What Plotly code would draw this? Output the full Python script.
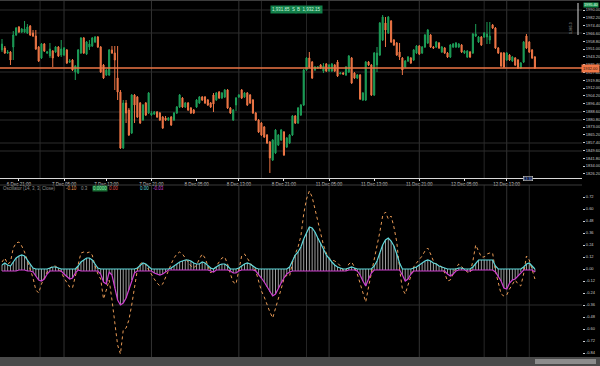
import plotly.graph_objects as go

# ---------------- data ----------------
opens = [1950,1952,1947,1948,1953,1965,1973,1968,1968,1967,
         1974,1967,1964,1953,1942,1956,1947,1944,1949,1948,
         1953,1945,1945,1950,1938,1940,1928,1927,1947,1962,
         1946,1953,1954,1958,1963,1953,1935,1925,1925,1950,
         1947,1922,1908,1852,1897,1890,1867,1905,1903,1897,
         1880,1897,1887,1885,1886,1888,1887,1883,1882,1880,
         1883,1880,1887,1893,1902,1893,1897,1892,1890,1893,
         1897,1903,1903,1900,1897,1905,1900,1908,1902,1903,
         1910,1892,1880,1895,1903,1910,1903,1907,1905,1900,
         1887,1880,1877,1873,1865,1858,1840,1847,1855,1860,
         1868,1853,1857,1865,1884,1877,1885,1895,1930,1942,
         1938,1930,1932,1935,1929,1936,1929,1929,1935,1938,
         1926,1927,1925,1928,1942,1927,1922,1925,1900,1900,
         1938,1935,1905,1935,1945,1960,1977,1967,1979,1960,
         1957,1948,1942,1933,1939,1942,1940,1947,1954,1947,
         1953,1957,1965,1953,1953,1957,1948,1952,1947,1943,
         1953,1953,1953,1955,1947,1943,1948,1947,1964,1958,
         1963,1963,1963,1960,1975,1972,1952,1947,1947,1940,
         1945,1939,1942,1940,1932,1938,1964,1958,1950,1943]
highs = [1961,1954,1950,1949,1969,1973,1974,1972,1979,1976,
         1975,1970,1970,1954,1957,1957,1949,1957,1950,1954,
         1954,1960,1953,1951,1941,1941,1935,1951,1963,1963,
         1959,1960,1963,1964,1964,1954,1936,1931,1951,1954,
         1954,1954,1910,1900,1900,1892,1906,1906,1904,1898,
         1896,1898,1908,1889,1889,1889,1888,1884,1884,1883,
         1884,1888,1894,1906,1903,1898,1898,1893,1891,1901,
         1904,1904,1904,1901,1898,1907,1908,1909,1908,1911,
         1911,1893,1891,1903,1906,1911,1908,1908,1906,1901,
         1888,1881,1878,1874,1866,1859,1861,1871,1866,1871,
         1869,1863,1866,1885,1885,1893,1896,1931,1943,1948,
         1939,1934,1934,1936,1937,1937,1936,1937,1936,1940,
         1928,1928,1934,1945,1943,1928,1926,1926,1908,1939,
         1939,1936,1948,1953,1978,1985,1983,1984,1980,1961,
         1958,1957,1943,1940,1944,1943,1951,1955,1955,1954,
         1966,1971,1966,1954,1959,1958,1954,1953,1948,1956,
         1957,1958,1957,1956,1950,1950,1949,1967,1976,1964,
         1964,1968,1978,1978,1976,1973,1953,1948,1948,1948,
         1946,1944,1943,1941,1938,1959,1966,1959,1951,1944]
lows = [1948,1946,1946,1935,1940,1964,1967,1967,1967,1966,
        1964,1963,1950,1938,1941,1948,1946,1942,1933,1947,
        1943,1943,1944,1936,1937,1929,1920,1926,1946,1946,
        1945,1950,1953,1957,1952,1927,1921,1924,1924,1946,
        1910,1900,1851,1851,1877,1864,1866,1877,1882,1876,
        1879,1884,1886,1884,1885,1882,1879,1871,1879,1879,
        1874,1879,1886,1892,1892,1892,1889,1886,1886,1892,
        1896,1899,1896,1894,1892,1888,1899,1901,1901,1902,
        1891,1886,1879,1889,1902,1901,1902,1894,1896,1886,
        1879,1867,1864,1862,1856,1827,1839,1846,1854,1859,
        1844,1852,1856,1864,1876,1876,1884,1894,1929,1932,
        1921,1929,1931,1931,1927,1928,1928,1928,1928,1923,
        1926,1925,1924,1927,1916,1921,1921,1900,1899,1899,
        1934,1904,1904,1928,1944,1959,1953,1966,1957,1954,
        1944,1940,1925,1932,1938,1936,1939,1946,1945,1946,
        1952,1956,1952,1951,1952,1951,1947,1946,1942,1942,
        1952,1952,1952,1947,1946,1942,1942,1946,1963,1957,
        1954,1962,1956,1956,1971,1951,1946,1933,1932,1939,
        1939,1938,1934,1931,1931,1937,1951,1947,1941,1931]
closes = [1956,1947,1948,1940,1965,1972,1968,1971,1971,1973,
          1965,1964,1951,1939,1956,1949,1948,1951,1942,1953,
          1944,1951,1952,1937,1939,1930,1934,1950,1962,1947,
          1958,1956,1962,1963,1953,1928,1922,1930,1950,1947,
          1940,1908,1852,1897,1887,1865,1905,1895,1883,1877,
          1895,1885,1907,1887,1888,1883,1880,1872,1880,1882,
          1875,1887,1893,1905,1893,1897,1890,1887,1887,1900,
          1903,1900,1897,1895,1893,1896,1907,1902,1907,1910,
          1892,1887,1890,1902,1905,1902,1907,1895,1897,1887,
          1880,1868,1865,1863,1857,1842,1860,1870,1865,1870,
          1845,1862,1865,1884,1877,1892,1895,1930,1942,1933,
          1922,1933,1933,1932,1934,1929,1935,1936,1929,1924,
          1927,1926,1933,1944,1917,1922,1925,1901,1907,1938,
          1935,1905,1947,1947,1977,1983,1970,1983,1958,1955,
          1945,1943,1930,1939,1943,1937,1950,1954,1946,1953,
          1965,1970,1953,1952,1958,1952,1953,1947,1943,1955,
          1956,1957,1956,1948,1949,1949,1943,1966,1966,1963,
          1955,1967,1966,1964,1972,1952,1947,1934,1933,1947,
          1940,1943,1935,1932,1937,1958,1952,1948,1942,1932]

osc_up = [0.04,0.06,0.04,0.03,0.07,0.11,0.13,0.14,0.13,0.09,
          0.05,0.01,0,0,0,0,0,0.01,0.02,0.02,
          0.01,0,0,0,0,0,0,0.03,0.07,0.09,
          0.11,0.11,0.09,0.05,0.01,0,0,0,0,0,
          0,0,0,0,0,0,0,0,0.01,0.04,
          0.06,0.05,0.02,0,0,0,0,0,0,0,
          0.01,0.03,0.05,0.07,0.08,0.09,0.09,0.08,0.06,0.05,
          0.05,0.07,0.06,0.03,0.01,0,0.02,0.04,0.05,0.05,
          0.03,0,0,0,0.01,0.03,0.05,0.06,0.05,0.03,
          0.01,0,0,0,0,0,0,0,0,0,
          0,0,0.02,0.08,0.14,0.17,0.22,0.30,0.37,0.42,
          0.41,0.37,0.31,0.26,0.20,0.14,0.10,0.07,0.04,0.02,
          0.01,0,0,0.01,0.02,0.01,0,0,0,0,
          0,0,0.03,0.08,0.16,0.24,0.29,0.31,0.28,0.23,
          0.15,0.06,0,0,0,0,0.01,0.02,0.04,0.06,
          0.08,0.09,0.08,0.06,0.05,0.03,0.02,0.01,0,0,
          0,0,0.01,0.01,0,0,0,0.02,0.06,0.09,
          0.09,0.09,0.09,0.09,0.09,0.03,0,0,0,0,
          0,0,0,0,0,0.02,0.05,0.06,0.03,0]
osc_down = [-0.02,-0.02,-0.02,-0.02,-0.02,-0.02,-0.01,-0.01,-0.01,-0.02,
            -0.02,-0.03,-0.07,-0.11,-0.12,-0.10,-0.05,-0.02,-0.02,-0.02,
            -0.02,-0.02,-0.05,-0.08,-0.10,-0.09,-0.04,-0.01,-0.02,-0.02,
            -0.02,-0.02,-0.02,-0.02,-0.02,-0.05,-0.13,-0.15,-0.03,-0.06,
            -0.19,-0.31,-0.36,-0.34,-0.29,-0.21,-0.11,-0.04,-0.02,-0.02,
            -0.02,-0.02,-0.02,-0.02,-0.04,-0.05,-0.06,-0.05,-0.03,-0.01,
            -0.01,-0.01,-0.01,-0.01,-0.01,-0.01,-0.01,-0.01,-0.01,-0.01,
            -0.01,-0.01,-0.01,-0.01,-0.02,-0.03,-0.01,-0.01,-0.01,-0.01,
            -0.01,-0.02,-0.04,-0.04,-0.02,-0.01,-0.01,-0.01,-0.01,-0.01,
            -0.02,-0.05,-0.09,-0.13,-0.18,-0.23,-0.27,-0.25,-0.19,-0.14,
            -0.09,-0.05,-0.03,-0.02,-0.02,-0.02,-0.02,-0.02,-0.02,-0.02,
            -0.02,-0.02,-0.02,-0.02,-0.02,-0.02,-0.02,-0.02,-0.02,-0.02,
            -0.02,-0.02,-0.02,-0.01,-0.01,-0.01,-0.02,-0.06,-0.12,-0.17,
            -0.10,-0.04,-0.01,-0.01,-0.01,-0.01,-0.01,-0.01,-0.01,-0.01,
            -0.01,-0.01,-0.06,-0.12,-0.10,-0.05,-0.02,-0.02,-0.02,-0.02,
            -0.02,-0.02,-0.02,-0.02,-0.02,-0.02,-0.02,-0.02,-0.05,-0.07,
            -0.05,-0.02,-0.01,-0.01,-0.01,-0.02,-0.02,-0.01,-0.01,-0.01,
            -0.01,-0.01,-0.01,-0.01,-0.01,-0.03,-0.08,-0.12,-0.19,-0.20,
            -0.14,-0.11,-0.10,-0.07,-0.03,-0.01,-0.01,-0.01,-0.01,-0.03]
osc_fast = [0.07,0.11,0.05,0.07,0.21,0.26,0.27,0.23,0.17,0.09,
            0.01,-0.09,-0.21,-0.24,-0.15,-0.09,-0.03,0.01,0.03,0.03,
            0.0,-0.03,-0.09,-0.14,-0.18,-0.19,-0.07,0.05,0.16,0.17,
            0.16,0.17,0.14,0.03,-0.05,-0.10,-0.30,-0.21,-0.11,-0.31,
            -0.51,-0.76,-0.85,-0.61,-0.59,-0.51,-0.36,-0.16,-0.01,0.05,
            0.07,0.04,-0.01,-0.06,-0.10,-0.14,-0.17,-0.15,-0.09,-0.02,
            0.05,0.11,0.15,0.17,0.15,0.11,0.07,0.03,0.01,0.04,
            0.10,0.15,0.11,0.03,-0.04,-0.01,0.03,0.08,0.11,0.12,
            0.05,-0.05,-0.13,-0.15,-0.01,0.13,0.15,0.11,0.07,0.03,
            -0.02,-0.12,-0.22,-0.28,-0.36,-0.43,-0.49,-0.40,-0.30,-0.20,
            -0.10,-0.06,-0.07,0.06,0.15,0.22,0.33,0.55,0.70,0.78,
            0.72,0.61,0.47,0.36,0.24,0.16,0.11,0.09,0.08,0.06,
            0.03,-0.02,-0.02,0.05,0.07,0.02,-0.05,-0.14,-0.25,-0.33,
            -0.18,-0.05,0.08,0.22,0.37,0.53,0.57,0.50,0.53,0.42,
            0.27,0.0,-0.20,-0.25,-0.16,-0.06,0.02,0.06,0.09,0.13,
            0.18,0.21,0.15,0.08,0.05,0.04,0.02,-0.04,-0.12,-0.11,
            -0.05,0.01,0.05,0.02,-0.01,-0.03,-0.04,0.08,0.24,0.18,
            0.12,0.12,0.15,0.16,0.16,-0.02,-0.15,-0.25,-0.27,-0.26,
            -0.20,-0.15,-0.11,-0.15,-0.17,-0.05,0.13,0.09,0.0,-0.10]

time_tick_idx = [6, 22, 37, 53, 69, 84, 100, 116, 132, 148, 164, 179]
time_tick_text = ["6 Dec 21:00", "7 Dec 05:00", "7 Dec 13:00", "7 Dec 21:00",
                  "8 Dec 05:00", "8 Dec 13:00", "8 Dec 21:00", "11 Dec 05:00",
                  "11 Dec 13:00", "11 Dec 21:00", "12 Dec 05:00", "12 Dec 13:00"]
price_ticks = [1990.0, 1982.2, 1974.4, 1966.6, 1958.8, 1951.0, 1943.2, 1935.4,
               1927.6, 1919.8, 1912.0, 1904.2, 1896.4, 1888.6, 1880.8, 1873.0,
               1865.2, 1857.4, 1849.6, 1841.8, 1834.0, 1826.2]
osc_ticks = [0.72, 0.60, 0.48, 0.36, 0.24, 0.12, 0.0, -0.12, -0.24, -0.36,
             -0.48, -0.60, -0.72, -0.84]
major_grid_idx = [22, 53, 84, 116, 148, 179]
minor_grid_idx = [13.5, 92, 108, 171, 187]
price_grid = [1990, 1967, 1928, 1888, 1880, 1857, 1849]
osc_grid = [-0.36]

# ---------------- style ----------------
GREEN = "#1d9e58"
ORANGE = "#ee7646"
CYAN = "#5fd9dc"
MAGENTA = "#cf3fd0"
DOTS = "#e89a55"
HIST = "rgba(210,210,210,0.75)"
GRID = "#2c2c2c"
FONT = "Liberation Sans"

W, H = 600, 366
ML, MR, MT, MB = 0, 18, 0, 9
PW, PH = W - ML - MR, H - MT - MB


def px_x(x):
    return (x - ML) / PW


def px_y(y):
    return (PH - (y - MT)) / PH


idx = list(range(len(opens)))

fig = go.Figure()
fig.add_trace(go.Candlestick(
    x=idx, open=opens, high=highs, low=lows, close=closes,
    increasing=dict(line=dict(color=GREEN, width=1), fillcolor=GREEN),
    decreasing=dict(line=dict(color=ORANGE, width=1), fillcolor=ORANGE),
    whiskerwidth=0, xaxis="x", yaxis="y", showlegend=False, hoverinfo="skip"))

fig.add_trace(go.Bar(x=idx, y=osc_up, width=0.35, marker=dict(color=HIST, line=dict(width=0)),
                     xaxis="x2", yaxis="y2", showlegend=False, hoverinfo="skip"))
fig.add_trace(go.Bar(x=idx, y=osc_down, width=0.35, marker=dict(color=HIST, line=dict(width=0)),
                     xaxis="x2", yaxis="y2", showlegend=False, hoverinfo="skip"))
fig.add_trace(go.Scatter(x=idx, y=osc_fast, mode="lines", line=dict(color=DOTS, width=1, dash="dot"),
                         xaxis="x2", yaxis="y2", showlegend=False, hoverinfo="skip"))
fig.add_trace(go.Scatter(x=idx, y=osc_down, mode="lines", line=dict(color=MAGENTA, width=1.2),
                         xaxis="x2", yaxis="y2", showlegend=False, hoverinfo="skip"))
fig.add_trace(go.Scatter(x=idx, y=osc_up, mode="lines", line=dict(color=CYAN, width=1.2),
                         xaxis="x2", yaxis="y2", showlegend=False, hoverinfo="skip"))

x_range = [-0.71, 205.7]
top_dom = [px_y(178), 1.0]
bot_dom = [0.0, px_y(185)]

shapes = []
for gi in major_grid_idx:
    for yr in ("y domain", "y2 domain"):
        shapes.append(dict(type="line", xref="x", yref=yr, x0=gi, x1=gi, y0=0, y1=1,
                           line=dict(color="#333333", width=1), layer="below"))
for gi in minor_grid_idx:
    for yr in ("y domain", "y2 domain"):
        shapes.append(dict(type="line", xref="x", yref=yr, x0=gi, x1=gi, y0=0, y1=1,
                           line=dict(color="#262626", width=1), layer="below"))
for gp in price_grid:
    shapes.append(dict(type="line", xref="paper", yref="y", x0=0, x1=1, y0=gp, y1=gp,
                       line=dict(color=GRID, width=1), layer="below"))
for go_ in osc_grid:
    shapes.append(dict(type="line", xref="paper", yref="y2", x0=0, x1=1, y0=go_, y1=go_,
                       line=dict(color=GRID, width=1), layer="below"))
# current price line
shapes.append(dict(type="line", xref="paper", yref="y", x0=0, x1=1, y0=closes[-1], y1=closes[-1],
                   line=dict(color=ORANGE, width=1.3)))
# panel separator under time labels
shapes.append(dict(type="line", xref="paper", yref="paper", x0=0, x1=1, y0=bot_dom[1], y1=bot_dom[1],
                   line=dict(color="#3a3a3a", width=1)))
# top window border
shapes.append(dict(type="line", xref="paper", yref="paper", x0=0, x1=W / PW, y0=px_y(0.5), y1=px_y(0.5),
                   line=dict(color="#3c3c3c", width=1)))
# price scale marker
shapes.append(dict(type="line", xref="paper", yref="paper", x0=px_x(578), x1=px_x(578),
                   y0=px_y(3), y1=px_y(35), line=dict(color="#d8d8d8", width=1)))
# bottom scrollbar
shapes.append(dict(type="rect", xref="paper", yref="paper", x0=0, x1=W / PW, y0=-MB / PH, y1=0,
                   line=dict(width=0), fillcolor="#4a4a4a"))
shapes.append(dict(type="rect", xref="paper", yref="paper", x0=px_x(535), x1=px_x(596),
                   y0=-7 / PH, y1=-2 / PH, line=dict(width=0), fillcolor="#8c8c8c"))

ann = []
# top buttons
ann.append(dict(xref="paper", yref="paper", x=px_x(283), y=px_y(5), text="1,931.85  S",
                showarrow=False, bgcolor="#13804a", font=dict(family=FONT, size=4.5, color="#c9f5dc"),
                borderpad=1))
ann.append(dict(xref="paper", yref="paper", x=px_x(309), y=px_y(5), text="B  1,932.15",
                showarrow=False, bgcolor="#13804a", font=dict(family=FONT, size=4.5, color="#c9f5dc"),
                borderpad=1))
# top-right green label
ann.append(dict(xref="paper", yref="paper", x=px_x(583), y=px_y(2.5), xanchor="left", text="1995.40",
                showarrow=False, bgcolor="#1a8f50", font=dict(family=FONT, size=3.8, color="#e8ffe8"),
                borderpad=0))
# current price label
ann.append(dict(xref="paper", yref="y", x=px_x(581), y=closes[-1], xanchor="left",
                text=f"{closes[-1]:.2f}", showarrow=False, bgcolor=ORANGE,
                font=dict(family=FONT, size=4, color="#201008"), borderpad=1))
# rotated scale text
ann.append(dict(xref="paper", yref="paper", x=px_x(575), y=px_y(20), text="1,985.0", textangle=-90,
                showarrow=False, font=dict(family=FONT, size=3.5, color="#9a9a9a")))
# time cursor label
ann.append(dict(xref="paper", yref="paper", x=px_x(533), y=px_y(178), text="13:30",
                showarrow=False, bgcolor="#101018", bordercolor="#d0d0d0", borderwidth=0.6,
                font=dict(family=FONT, size=3.5, color="#7aa8ff"), borderpad=0))
# oscillator legend
ly = px_y(188)
ann.append(dict(xref="paper", yref="paper", x=px_x(1), y=ly, xanchor="left",
                text="Oscillator (14, 3, 3, Close)", showarrow=False,
                font=dict(family=FONT, size=4.5, color="#8f8f8f")))
ann.append(dict(xref="paper", yref="paper", x=px_x(64), y=ly, xanchor="left",
                text=f"{osc_fast[-1]:.2f}", showarrow=False, font=dict(family=FONT, size=4.5, color=DOTS)))
ann.append(dict(xref="paper", yref="paper", x=px_x(79), y=ly, xanchor="left",
                text="0.3", showarrow=False, font=dict(family=FONT, size=4.5, color="#8f8f8f")))
ann.append(dict(xref="paper", yref="paper", x=px_x(92), y=ly, xanchor="left",
                text="0.0000", showarrow=False, bgcolor="#1a6e36",
                font=dict(family=FONT, size=4.5, color="#8ff0b0"), borderpad=0))
ann.append(dict(xref="paper", yref="paper", x=px_x(107), y=ly, xanchor="left",
                text="0.00", showarrow=False, font=dict(family=FONT, size=4.5, color="#e0504a")))
ann.append(dict(xref="paper", yref="paper", x=px_x(138), y=ly, xanchor="left",
                text=f"{osc_up[-1]:.2f}", showarrow=False, font=dict(family=FONT, size=4.5, color=CYAN)))
ann.append(dict(xref="paper", yref="paper", x=px_x(151), y=ly, xanchor="left",
                text=f"{osc_down[-1]:.2f}", showarrow=False, font=dict(family=FONT, size=4.5, color=MAGENTA)))

fig.update_layout(
    width=W, height=H,
    margin=dict(l=ML, r=MR, t=MT, b=MB),
    paper_bgcolor="#000000", plot_bgcolor="#000000",
    font=dict(family=FONT, color="#c8c8c8"),
    barmode="overlay", boxgap=0.45,
    showlegend=False,
    xaxis=dict(domain=[0, 1], range=x_range, anchor="y", showgrid=False, zeroline=False,
               tickmode="array", tickvals=time_tick_idx, ticktext=time_tick_text,
               tickfont=dict(family=FONT, size=4.5, color="#c8c8c8"),
               ticks="outside", ticklen=2, tickcolor="#e0e0e0",
               showline=True, linecolor="#d8d8d8", linewidth=1,
               rangeslider=dict(visible=False), fixedrange=True),
    yaxis=dict(domain=top_dom, range=[1822, 2000], anchor="x", side="right", showgrid=False,
               zeroline=False, tickmode="array", tickvals=price_ticks,
               ticktext=[f"{v:.2f}" for v in price_ticks],
               tickfont=dict(family=FONT, size=4, color="#c8c8c8"),
               ticks="outside", ticklen=2, tickcolor="#d0d0d0", fixedrange=True),
    xaxis2=dict(domain=[0, 1], range=x_range, anchor="y2", matches="x", showgrid=False,
                zeroline=False, showticklabels=False, fixedrange=True),
    yaxis2=dict(domain=bot_dom, range=[-0.88, 0.84], anchor="x2", side="right", showgrid=False,
                zeroline=False, tickmode="array", tickvals=osc_ticks,
                ticktext=[f"{v:.2f}" for v in osc_ticks],
                tickfont=dict(family=FONT, size=4, color="#c8c8c8"),
                ticks="outside", ticklen=2, tickcolor="#d0d0d0", fixedrange=True),
    shapes=shapes,
    annotations=ann,
)

fig.write_html("out.html",
               config={"displayModeBar": False},
               post_script="document.body.style.margin='0';document.body.style.padding='0';"
                           "document.body.style.background='#000';")
